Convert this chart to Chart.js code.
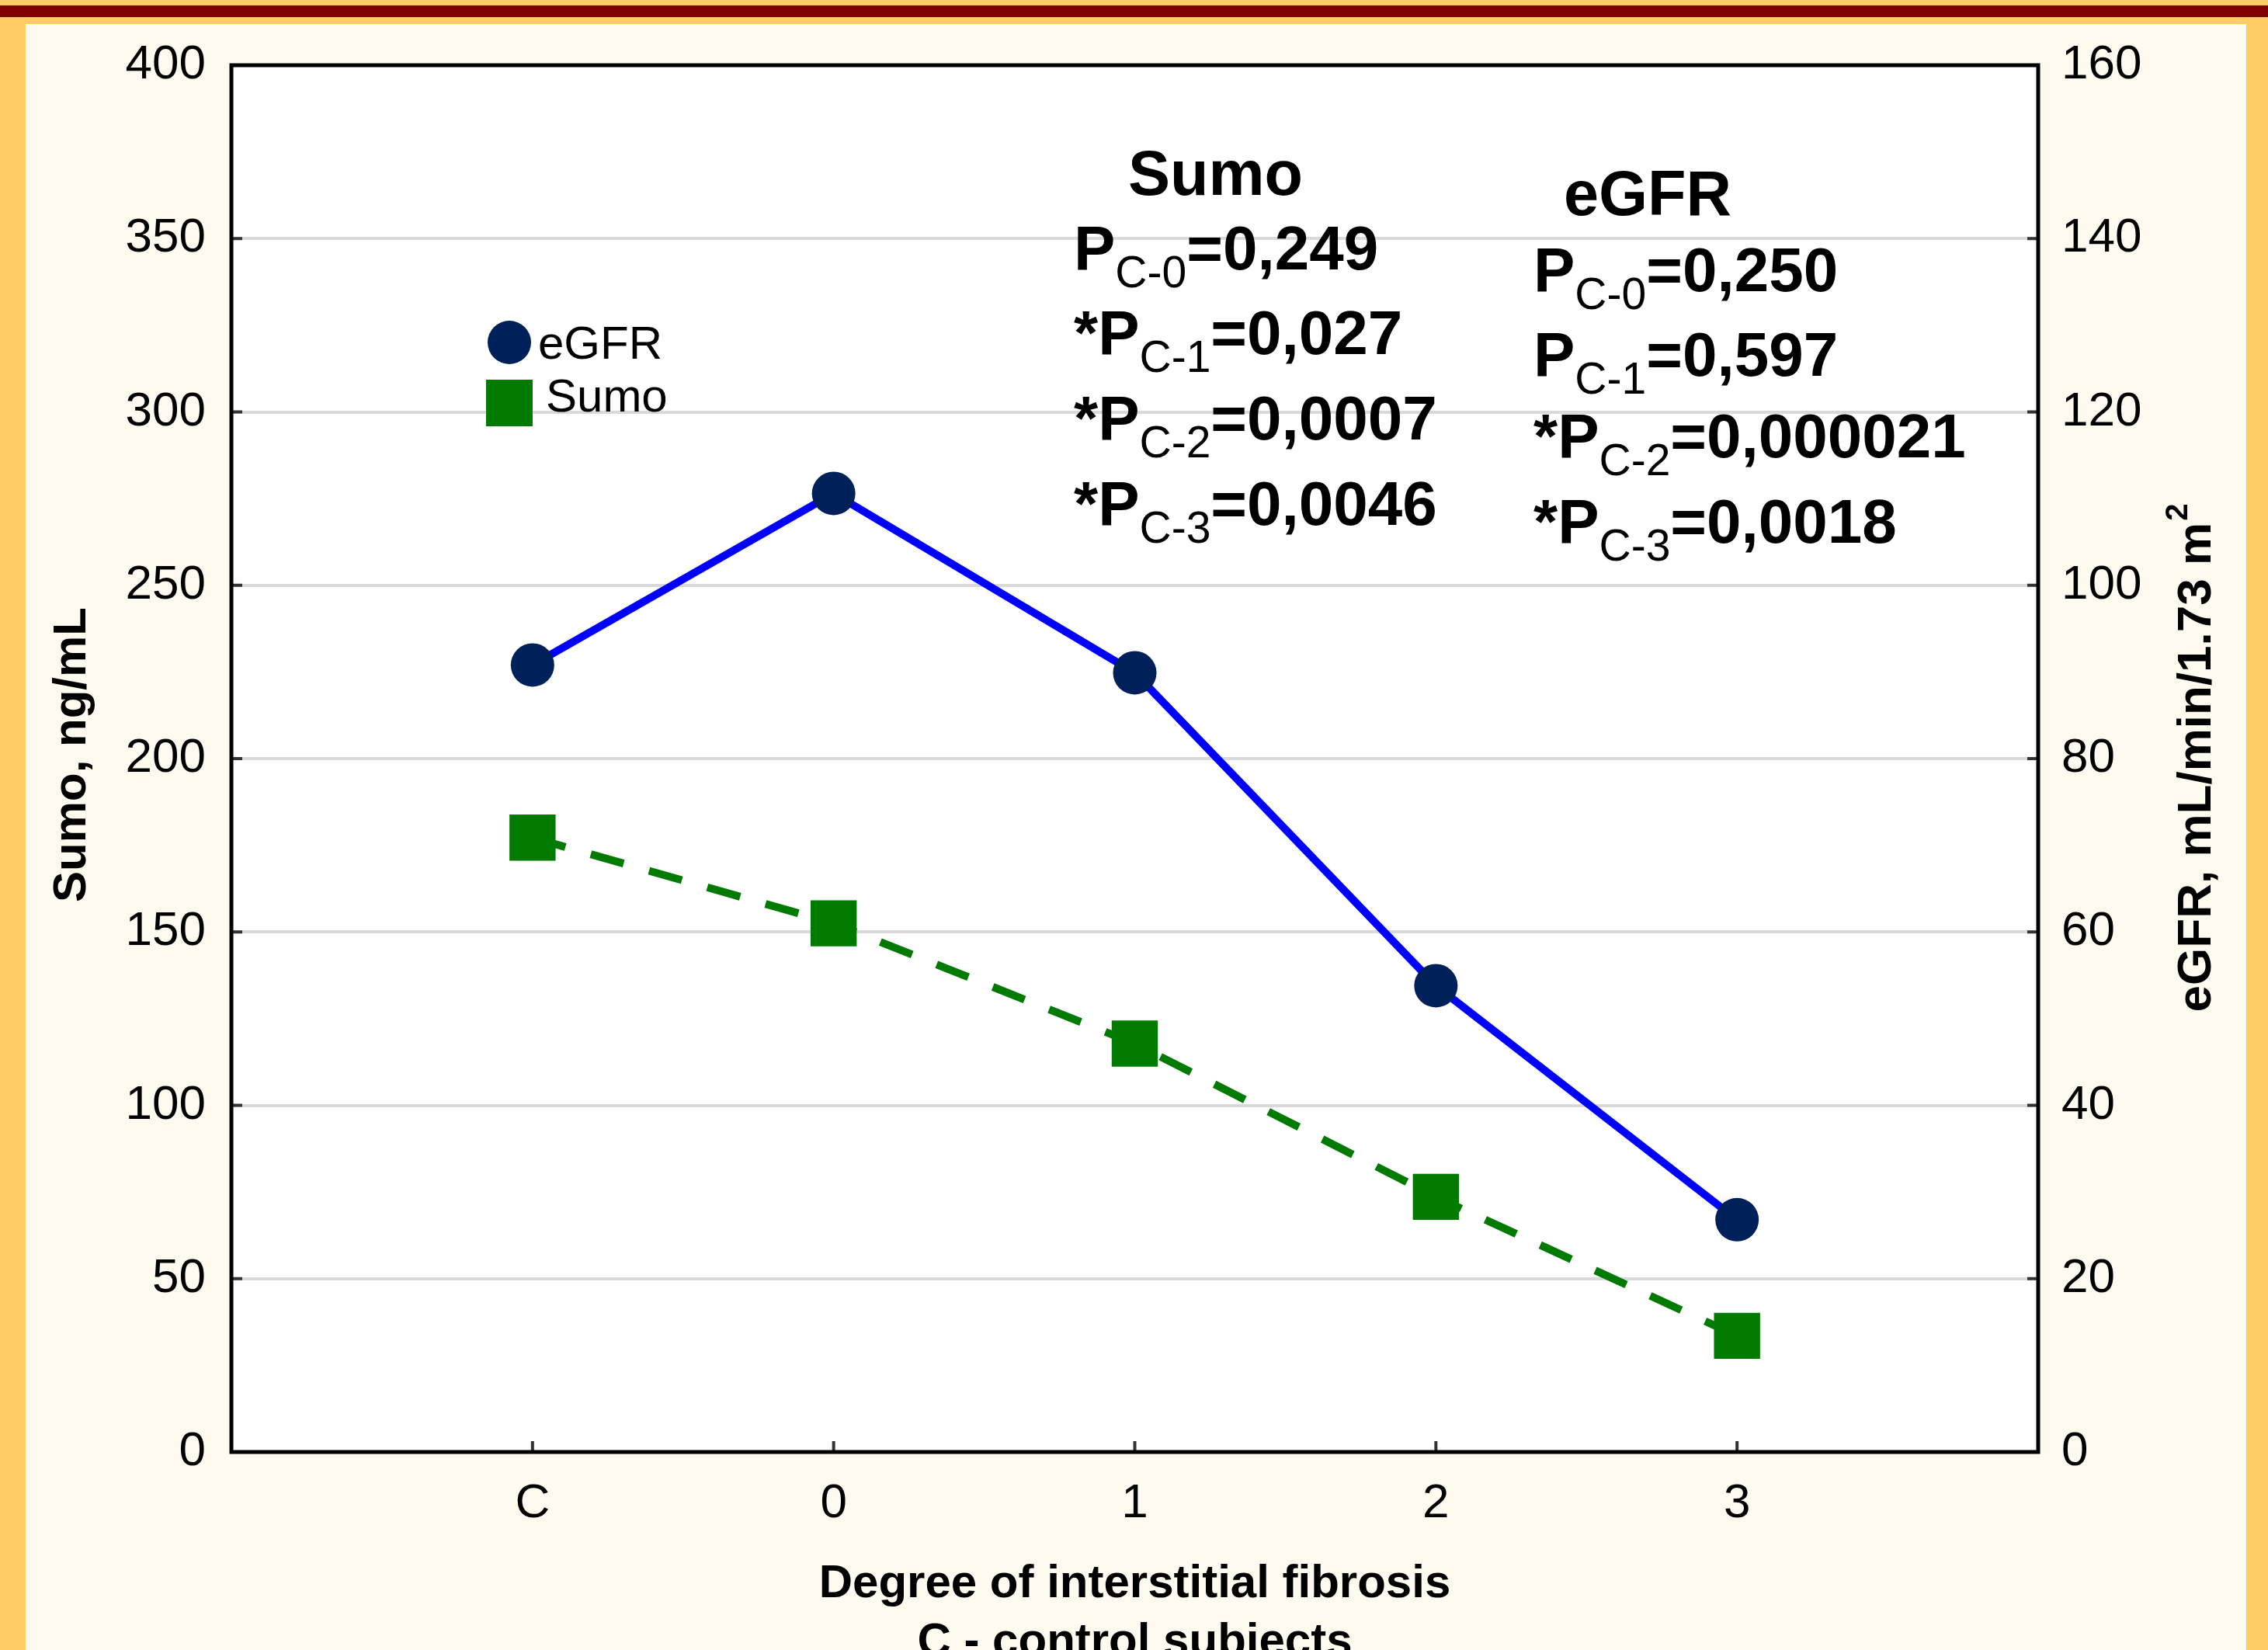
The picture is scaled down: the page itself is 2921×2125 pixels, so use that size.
<!DOCTYPE html>
<html>
<head>
<meta charset="utf-8">
<script src="https://cdn.jsdelivr.net/npm/chart.js@4/dist/chart.umd.min.js"></script>
<style>
  html, body { margin: 0; padding: 0; background: #FFCC66; }
  canvas { display: block; }
</style>
</head>
<body>
<canvas id="grafico" width="2921" height="2125"></canvas>
<script>
// datos
const categorias = ['C', '0', '1', '2', '3'];
const egfr = [90.8, 110.6, 89.9, 53.8, 26.8];
const sumo = [177.2, 152.5, 117.8, 73.6, 33.5];
const ticksSumo = [0, 50, 100, 150, 200, 250, 300, 350, 400];
const ticksEgfr = [0, 20, 40, 60, 80, 100, 120, 140, 160];

const statsSumo = [['', 'C-0', '0,249'], ['*', 'C-1', '0,027'], ['*', 'C-2', '0,0007'], ['*', 'C-3', '0,0046']];
const statsEgfr = [['', 'C-0', '0,250'], ['', 'C-1', '0,597'], ['*', 'C-2', '0,000021'], ['*', 'C-3', '0,0018']];

const FUENTE = "'Liberation Sans', Arial, sans-serif";

const fondo = {
  id: 'fondo',
  beforeDraw(chart) {
    const { ctx, chartArea: a } = chart;
    ctx.save();
    ctx.fillStyle = '#FFCC66';
    ctx.fillRect(0, 0, chart.width, chart.height);
    ctx.fillStyle = '#800000';
    ctx.fillRect(0, 7, chart.width, 15);
    ctx.fillStyle = '#FFFAEF';
    ctx.fillRect(33, 31, 2860, chart.height - 31);
    ctx.fillStyle = '#ffffff';
    ctx.fillRect(a.left, a.top, a.right - a.left, a.bottom - a.top);
    ctx.restore();
  }
};

const marco = {
  id: 'marco',
  beforeDatasetsDraw(chart) {
    const { ctx, chartArea: a, scales } = chart;
    ctx.save();
    // ticks hacia adentro
    ctx.strokeStyle = '#333';
    ctx.lineWidth = 4;
    ctx.beginPath();
    scales.y.ticks.forEach((t, i) => {
      const py = scales.y.getPixelForTick(i);
      ctx.moveTo(a.left, py); ctx.lineTo(a.left + 14, py);
    });
    scales.y1.ticks.forEach((t, i) => {
      const py = scales.y1.getPixelForTick(i);
      ctx.moveTo(a.right - 14, py); ctx.lineTo(a.right, py);
    });
    categorias.forEach((c, i) => {
      const px = scales.x.getPixelForValue(i);
      ctx.moveTo(px, a.bottom - 14); ctx.lineTo(px, a.bottom);
    });
    ctx.stroke();
    ctx.strokeStyle = '#000';
    ctx.lineWidth = 5;
    ctx.strokeRect(a.left, a.top, a.right - a.left, a.bottom - a.top);
    ctx.restore();
  }
};

function lineaStat(ctx, x, y, fila) {
  const [pre, sub, valor] = fila;
  ctx.font = 'bold 80px ' + FUENTE;
  ctx.fillText(pre + 'P', x, y);
  x += ctx.measureText(pre + 'P').width;
  ctx.font = '57px ' + FUENTE;
  ctx.fillText(sub, x, y + 23);
  x += ctx.measureText(sub).width;
  ctx.font = 'bold 80px ' + FUENTE;
  ctx.fillText('=' + valor, x, y);
}

const textos = {
  id: 'textos',
  afterDraw(chart) {
    const { ctx, chartArea: a } = chart;
    const ds = chart.data.datasets;
    ctx.save();
    ctx.fillStyle = '#000';
    ctx.textAlign = 'left';
    ctx.textBaseline = 'alphabetic';

    // leyenda
    ctx.fillStyle = ds[0].pointBackgroundColor;
    ctx.beginPath();
    ctx.arc(656, 441, 28, 0, Math.PI * 2);
    ctx.fill();
    ctx.fillStyle = ds[1].pointBackgroundColor;
    ctx.fillRect(626, 489, 60, 60);
    ctx.fillStyle = '#000';
    ctx.font = '60px ' + FUENTE;
    ctx.fillText(ds[0].label, 693, 462);
    ctx.fillText(ds[1].label, 703, 530);

    // p valores
    ctx.font = 'bold 81px ' + FUENTE;
    ctx.fillText('Sumo', 1453, 251);
    ctx.fillText('eGFR', 2014, 277);
    [347, 456, 566, 676].forEach((y, i) => lineaStat(ctx, 1383, y, statsSumo[i]));
    [375, 484, 589, 699].forEach((y, i) => lineaStat(ctx, 1975, y, statsEgfr[i]));

    // titulos de ejes
    ctx.textBaseline = 'middle';
    ctx.textAlign = 'center';
    ctx.font = 'bold 60px ' + FUENTE;
    const cx = (a.left + a.right) / 2;
    ctx.fillText('Degree of interstitial fibrosis', cx, 2040);
    ctx.fillText('C - control subjects', cx, 2115);

    ctx.save();
    ctx.translate(93, 972);
    ctx.rotate(-Math.PI / 2);
    ctx.fillText('Sumo, ng/mL', 0, 0);
    ctx.restore();

    ctx.save();
    ctx.translate(2830, 977);
    ctx.rotate(-Math.PI / 2);
    ctx.textAlign = 'left';
    ctx.font = 'bold 62px ' + FUENTE;
    const base = 'eGFR, mL/min/1.73 m';
    const w1 = ctx.measureText(base).width;
    ctx.font = 'bold 40px ' + FUENTE;
    const w2 = ctx.measureText('2').width;
    const x0 = -(w1 + w2) / 2;
    ctx.font = 'bold 62px ' + FUENTE;
    ctx.fillText(base, x0, 0);
    ctx.font = 'bold 40px ' + FUENTE;
    ctx.fillText('2', x0 + w1 + 2, -24);
    ctx.restore();

    ctx.restore();
  }
};

const fuenteTicks = { family: FUENTE, size: 62 };

new Chart(document.getElementById('grafico'), {
  type: 'line',
  data: {
    datasets: [
      {
        label: 'eGFR',
        data: egfr.map((v, i) => ({ x: i, y: v })),
        yAxisID: 'y1',
        borderColor: '#0000FF',
        borderWidth: 10,
        pointStyle: 'circle',
        pointRadius: 28,
        pointBackgroundColor: '#00205A',
        pointBorderWidth: 0,
        tension: 0
      },
      {
        label: 'Sumo',
        data: sumo.map((v, i) => ({ x: i, y: v })),
        yAxisID: 'y',
        borderColor: '#007A00',
        borderWidth: 10,
        borderDash: [44, 34],
        pointStyle: 'rect',
        pointRadius: 42,
        pointBackgroundColor: '#007A00',
        pointBorderWidth: 0,
        tension: 0
      }
    ]
  },
  options: {
    responsive: false,
    animation: false,
    devicePixelRatio: 1,
    layout: { padding: { top: 84, left: 0, right: 0, bottom: 0 } },
    plugins: {
      legend: { display: false },
      tooltip: { enabled: false }
    },
    scales: {
      x: {
        type: 'linear',
        min: -1,
        max: categorias.length,
        afterFit: (s) => { s.height = 255; },
        grid: { display: false, drawTicks: false },
        border: { display: false },
        ticks: {
          stepSize: 1,
          autoSkip: false,
          maxRotation: 0,
          padding: 30,
          color: '#000',
          font: fuenteTicks,
          callback: (v) => categorias[v] ?? ''
        }
      },
      y: {
        position: 'left',
        min: ticksSumo[0],
        max: ticksSumo[ticksSumo.length - 1],
        afterFit: (s) => { s.width = 298; },
        grid: { color: '#D9D9D9', lineWidth: 4, drawTicks: false },
        border: { display: false },
        ticks: { stepSize: ticksSumo[1] - ticksSumo[0], padding: 33, color: '#000', font: fuenteTicks }
      },
      y1: {
        position: 'right',
        min: ticksEgfr[0],
        max: ticksEgfr[ticksEgfr.length - 1],
        afterFit: (s) => { s.width = 296; },
        grid: { display: false, drawTicks: false },
        border: { display: false },
        ticks: { stepSize: ticksEgfr[1] - ticksEgfr[0], padding: 30, color: '#000', font: fuenteTicks }
      }
    }
  },
  plugins: [fondo, marco, textos]
});
</script>
</body>
</html>
